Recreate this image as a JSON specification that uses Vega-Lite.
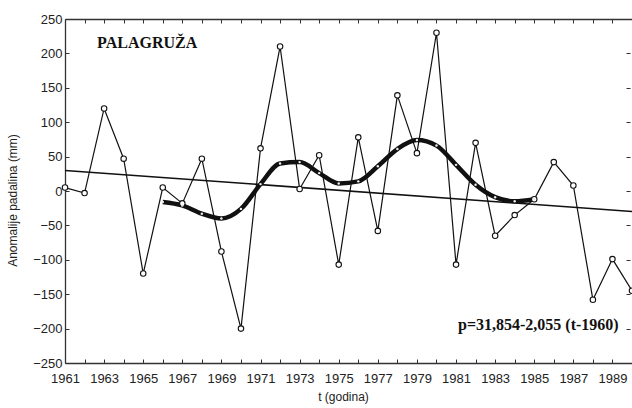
{
  "$schema": "https://vega.github.io/schema/vega-lite/v6.json",
  "width": 567,
  "height": 344,
  "autosize": {"type": "none"},
  "padding": {"left": 65, "top": 19, "right": 0, "bottom": 45},
  "background": "white",
  "config": {"view": {"stroke": null}, "font": "Liberation Sans"},
  "datasets": {
    "raw": [
      {"year": 1961, "value": 5}, {"year": 1962, "value": -3}, {"year": 1963, "value": 120},
      {"year": 1964, "value": 47}, {"year": 1965, "value": -120}, {"year": 1966, "value": 5},
      {"year": 1967, "value": -18}, {"year": 1968, "value": 47}, {"year": 1969, "value": -88},
      {"year": 1970, "value": -200}, {"year": 1971, "value": 62}, {"year": 1972, "value": 210},
      {"year": 1973, "value": 3}, {"year": 1974, "value": 52}, {"year": 1975, "value": -107},
      {"year": 1976, "value": 78}, {"year": 1977, "value": -58}, {"year": 1978, "value": 139},
      {"year": 1979, "value": 55}, {"year": 1980, "value": 230}, {"year": 1981, "value": -107},
      {"year": 1982, "value": 70}, {"year": 1983, "value": -65}, {"year": 1984, "value": -35},
      {"year": 1985, "value": -12}, {"year": 1986, "value": 42}, {"year": 1987, "value": 8},
      {"year": 1988, "value": -158}, {"year": 1989, "value": -99}, {"year": 1990, "value": -145}
    ],
    "smooth": [
      {"year": 1966, "value": -16}, {"year": 1967, "value": -21}, {"year": 1968, "value": -33},
      {"year": 1969, "value": -40}, {"year": 1970, "value": -26}, {"year": 1971, "value": 10},
      {"year": 1972, "value": 40}, {"year": 1973, "value": 42}, {"year": 1974, "value": 26},
      {"year": 1975, "value": 11}, {"year": 1976, "value": 14}, {"year": 1977, "value": 36},
      {"year": 1978, "value": 61}, {"year": 1979, "value": 74}, {"year": 1980, "value": 66},
      {"year": 1981, "value": 38}, {"year": 1982, "value": 9}, {"year": 1983, "value": -9},
      {"year": 1984, "value": -15}, {"year": 1985, "value": -12}
    ],
    "trend": [
      {"year": 1961, "value": 29.8}, {"year": 1990, "value": -29.8}
    ],
    "labels": [
      {"year": 1962.64, "value": 208, "text": "PALAGRUŽA"},
      {"year": 1981.1, "value": -202, "text": "p=31,854-2,055 (t-1960)"}
    ]
  },
  "resolve": {"axis": {"x": "independent", "y": "independent"}},
  "layer": [
    {
      "data": {"name": "trend"},
      "mark": {"type": "line", "color": "#111", "strokeWidth": 1.6, "clip": true},
      "encoding": {
        "x": {
          "field": "year", "type": "quantitative",
          "scale": {"domain": [1961, 1990], "nice": false, "zero": false},
          "axis": {
            "orient": "bottom",
            "values": [1961,1962,1963,1964,1965,1966,1967,1968,1969,1970,1971,1972,1973,1974,1975,1976,1977,1978,1979,1980,1981,1982,1983,1984,1985,1986,1987,1988,1989,1990],
            "format": "d",
            "labelExpr": "datum.value % 2 == 1 ? datum.label : ''",
            "labelFlush": false, "labelOverlap": false,
            "tickSize": -4, "tickWidth": 1, "tickColor": "#333",
            "domainColor": "#333", "domainWidth": 1.3,
            "labelPadding": 13, "labelFontSize": 13, "labelColor": "#222",
            "grid": false,
            "title": "t (godina)", "titleFontSize": 12, "titleFontWeight": "normal",
            "titleColor": "#222", "titleY": 28, "titleBaseline": "top", "titleX": 278
          }
        },
        "y": {
          "field": "value", "type": "quantitative",
          "scale": {"domain": [-250, 250], "nice": false, "zero": false},
          "axis": {
            "orient": "left",
            "values": [-250, -200, -150, -100, -50, 0, 50, 100, 150, 200, 250],
            "tickSize": -4, "tickWidth": 1, "tickColor": "#333",
            "domainColor": "#333", "domainWidth": 1.3,
            "labelPadding": 7, "labelFontSize": 13, "labelColor": "#222",
            "labelFlush": false, "labelOverlap": false,
            "grid": false,
            "title": "Anomalije padalina (mm)", "titleFontSize": 12, "titleFontWeight": "normal",
            "titleColor": "#222", "titleX": -53, "titleY": 181, "titleBaseline": "middle", "titleAlign": "center"
          }
        }
      }
    },
    {
      "data": {"name": "smooth"},
      "mark": {"type": "line", "color": "#111", "strokeWidth": 4.5, "interpolate": "monotone"},
      "encoding": {
        "x": {
          "field": "year", "type": "quantitative",
          "axis": {
            "orient": "top",
            "values": [1961,1962,1963,1964,1965,1966,1967,1968,1969,1970,1971,1972,1973,1974,1975,1976,1977,1978,1979,1980,1981,1982,1983,1984,1985,1986,1987,1988,1989,1990],
            "labels": false, "tickSize": -4, "tickWidth": 1, "tickColor": "#333",
            "domainColor": "#333", "domainWidth": 1.3, "grid": false, "title": null
          }
        },
        "y": {
          "field": "value", "type": "quantitative",
          "axis": {
            "orient": "right",
            "values": [-250, -200, -150, -100, -50, 0, 50, 100, 150, 200, 250],
            "labels": false, "domain": false, "tickSize": -4, "tickWidth": 1, "tickColor": "#333",
            "grid": false, "title": null, "offset": -2
          }
        }
      }
    },
    {
      "data": {"name": "raw"},
      "mark": {"type": "line", "color": "#111", "strokeWidth": 1.2},
      "encoding": {
        "x": {"field": "year", "type": "quantitative", "axis": null},
        "y": {"field": "value", "type": "quantitative", "axis": null}
      }
    },
    {
      "data": {"name": "raw"},
      "mark": {"type": "point", "shape": "circle", "filled": true, "fill": "white", "stroke": "#111", "strokeWidth": 1.1, "size": 30, "opacity": 1},
      "encoding": {
        "x": {"field": "year", "type": "quantitative", "axis": null},
        "y": {"field": "value", "type": "quantitative", "axis": null}
      }
    },
    {
      "data": {"name": "smooth"},
      "mark": {"type": "point", "shape": "circle", "filled": true, "fill": "#eee", "strokeWidth": 0, "size": 6, "opacity": 1},
      "encoding": {
        "x": {"field": "year", "type": "quantitative", "axis": null},
        "y": {"field": "value", "type": "quantitative", "axis": null}
      }
    },
    {
      "data": {"name": "labels"},
      "mark": {"type": "text", "font": "Liberation Serif", "fontWeight": "bold", "fontSize": 16, "align": "left", "baseline": "alphabetic", "color": "#111"},
      "encoding": {
        "x": {"field": "year", "type": "quantitative", "axis": null},
        "y": {"field": "value", "type": "quantitative", "axis": null},
        "text": {"field": "text"}
      }
    }
  ]
}
